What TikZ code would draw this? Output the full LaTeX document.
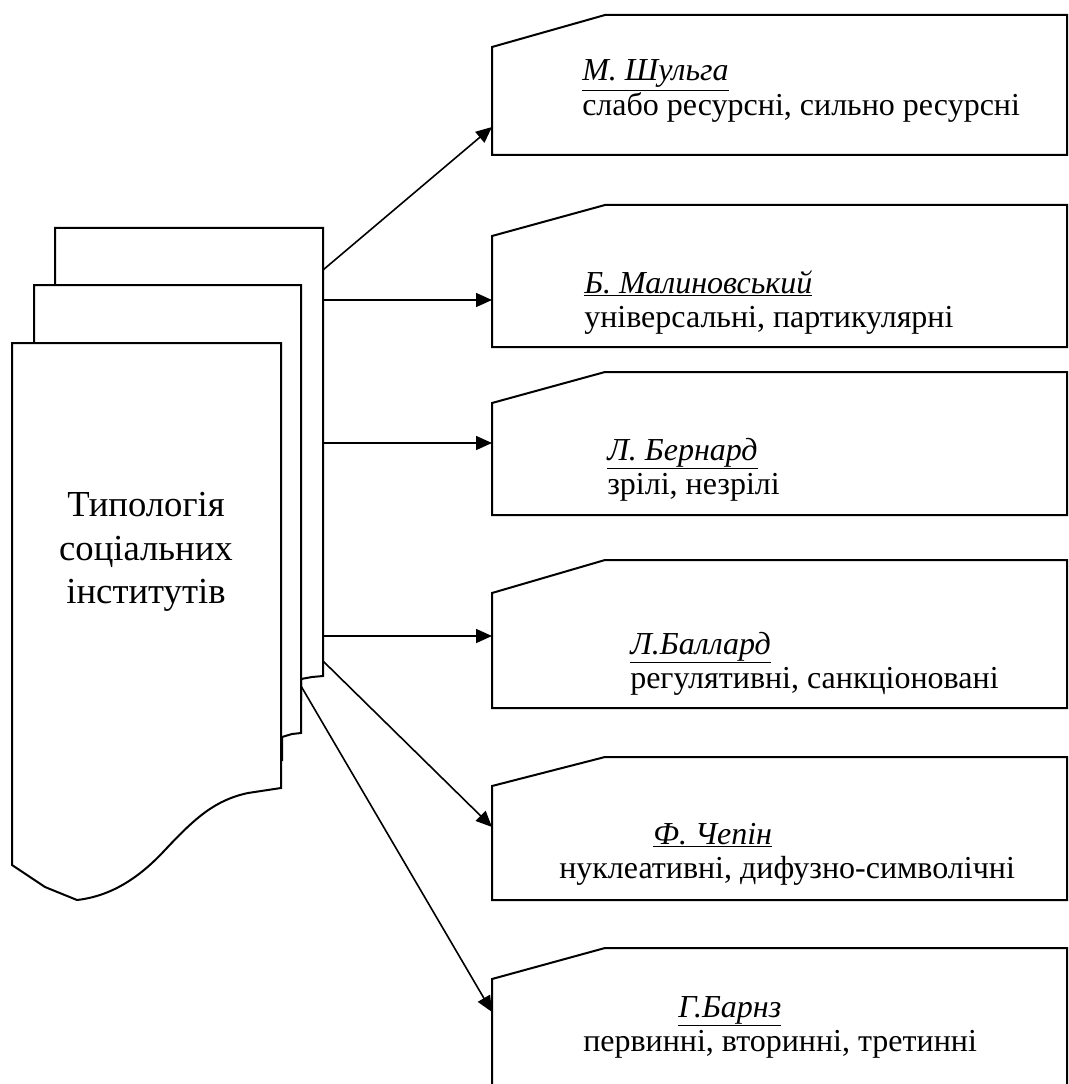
\documentclass[tikz,border=0pt]{standalone}
\usepackage{fontspec}
\setmainfont{Liberation Serif}
\usetikzlibrary{arrows.meta}
\begin{document}
\begin{tikzpicture}[x=0.75pt,y=-0.75pt,
  frame/.style={draw=black,line width=1.5pt,fill=white,line join=miter},
  conn/.style={draw=black,line width=1.2pt,-{Triangle[length=12pt,width=10.5pt]}},
  boxtxt/.style={anchor=base west,inner sep=0pt,font=\fontsize{24pt}{27pt}\selectfont},
  maintxt/.style={align=center,inner sep=0pt,font=\fontsize{27.5pt}{32.6pt}\selectfont}]
\useasboundingbox (0,0) rectangle (1069,1084);
\begin{scope}
\clip (0,0) rectangle (1069,1084);
% stacked document shape
\draw[frame] (55,228) -- (323,228) -- (323,676) -- (312,677) -- (301,679) -- (301,700) -- (55,700) -- cycle;
\draw[frame] (34,285) -- (301,285) -- (301,733) -- (292,734) -- (282,737) -- (282,760) -- (34,760) -- cycle;
\draw[frame] (12,343) -- (281,343) -- (281,788) -- (248,793)
  .. controls (215,800) and (195,818) .. (165,850)
  .. controls (140,877) and (112,896) .. (77,900)
  -- (45,887) -- (12,865) -- cycle;
% boxes
\foreach \t/\c/\b [count=\i] in {15/47/155, 205/236/347, 372/403/515, 560/593/708, 757/786/900, 948/979/1200}{
  \draw[frame] (492,\c) -- (605,\t) -- (1067,\t) -- (1067,\b) -- (492,\b) -- cycle;
}
\end{scope}
\node[maintxt] (main) at (146,552) {Типологія\\соціальних\\інститутів};
\coordinate (s1) at (323,270);
\coordinate (s2) at (323,300);
\coordinate (s3) at (323,443);
\coordinate (s4) at (323,636);
\coordinate (s5) at (323,661);
\coordinate (s6) at (301,686);
\coordinate (e1) at (492,127);
\coordinate (e2) at (492,300);
\coordinate (e3) at (492,443);
\coordinate (e4) at (492,636);
\coordinate (e5) at (492,827);
\coordinate (e6) at (492,1012);
\foreach \i in {1,...,6}{\draw[conn] (s\i) -- (e\i);}
% texts
\node[boxtxt] (a1) at (582,81) {\textit{\underline{М. Шульга}}};
\node[boxtxt] (b1) at (582,116) {слабо ресурсні, сильно ресурсні};
\node[boxtxt] (a2) at (584,293) {\textit{\underline{Б. Малиновський}}};
\node[boxtxt] (b2) at (584,327) {універсальні, партикулярні};
\node[boxtxt] (a3) at (607,460) {\textit{\underline{Л. Бернард}}};
\node[boxtxt] (b3) at (607,494) {зрілі, незрілі};
\node[boxtxt] (a4) at (630,654) {\textit{\underline{Л.Баллард}}};
\node[boxtxt] (b4) at (630,688) {регулятивні, санкціоновані};
\node[boxtxt] (a5) at (653,844) {\textit{\underline{Ф. Чепін}}};
\node[boxtxt] (b5) at (559,878) {нуклеативні, дифузно-символічні};
\node[boxtxt] (a6) at (678,1017) {\textit{\underline{Г.Барнз}}};
\node[boxtxt] (b6) at (583,1051) {первинні, вторинні, третинні};
\end{tikzpicture}
\end{document}
